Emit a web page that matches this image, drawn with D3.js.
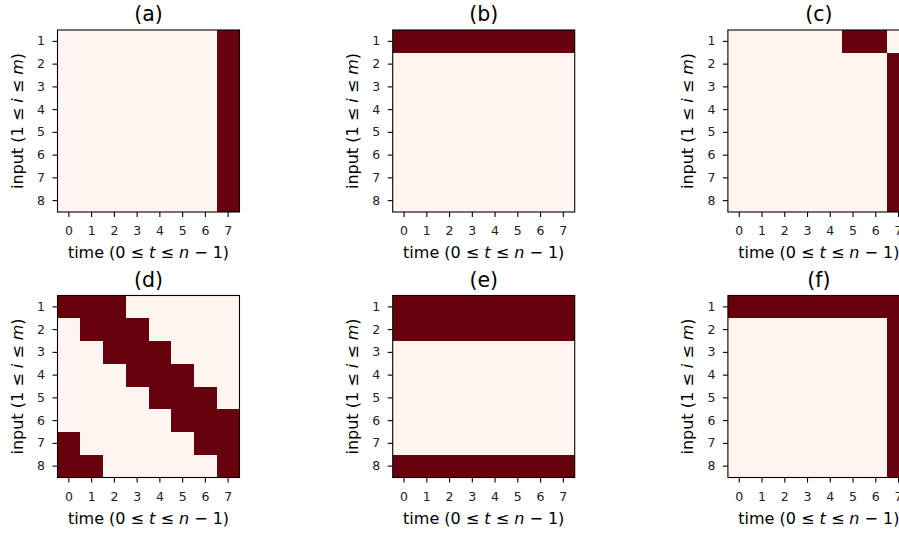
<!DOCTYPE html>
<html>
<head>
<meta charset="utf-8">
<script src="https://cdn.jsdelivr.net/npm/d3@7"></script>
<style>
  body { margin: 0; background: #fff; }
  svg { display: block; font-family: "DejaVu Sans", sans-serif; }
  .tick text { font-size: 12.5px; fill: #222; font-family: "DejaVu Sans", sans-serif; }
  .tick line { stroke: #000; stroke-width: 1.1; }
</style>
</head>
<body>
<div id="chart"></div>
<script>
// time steps (columns) and inputs (rows)
var times = [0, 1, 2, 3, 4, 5, 6, 7];
var inputs = [1, 2, 3, 4, 5, 6, 7, 8];

var titles = ["(a)", "(b)", "(c)", "(d)", "(e)", "(f)"];

// one 8x8 matrix per panel, rows = inputs, cols = times
var panelA = [
  [0,0,0,0,0,0,0,1],
  [0,0,0,0,0,0,0,1],
  [0,0,0,0,0,0,0,1],
  [0,0,0,0,0,0,0,1],
  [0,0,0,0,0,0,0,1],
  [0,0,0,0,0,0,0,1],
  [0,0,0,0,0,0,0,1],
  [0,0,0,0,0,0,0,1]
];
var panelB = [
  [1,1,1,1,1,1,1,1],
  [0,0,0,0,0,0,0,0],
  [0,0,0,0,0,0,0,0],
  [0,0,0,0,0,0,0,0],
  [0,0,0,0,0,0,0,0],
  [0,0,0,0,0,0,0,0],
  [0,0,0,0,0,0,0,0],
  [0,0,0,0,0,0,0,0]
];
var panelC = [
  [0,0,0,0,0,1,1,0],
  [0,0,0,0,0,0,0,1],
  [0,0,0,0,0,0,0,1],
  [0,0,0,0,0,0,0,1],
  [0,0,0,0,0,0,0,1],
  [0,0,0,0,0,0,0,1],
  [0,0,0,0,0,0,0,1],
  [0,0,0,0,0,0,0,1]
];
var panelD = [
  [1,1,1,0,0,0,0,0],
  [0,1,1,1,0,0,0,0],
  [0,0,1,1,1,0,0,0],
  [0,0,0,1,1,1,0,0],
  [0,0,0,0,1,1,1,0],
  [0,0,0,0,0,1,1,1],
  [1,0,0,0,0,0,1,1],
  [1,1,0,0,0,0,0,1]
];
var panelE = [
  [1,1,1,1,1,1,1,1],
  [1,1,1,1,1,1,1,1],
  [0,0,0,0,0,0,0,0],
  [0,0,0,0,0,0,0,0],
  [0,0,0,0,0,0,0,0],
  [0,0,0,0,0,0,0,0],
  [0,0,0,0,0,0,0,0],
  [1,1,1,1,1,1,1,1]
];
var panelF = [
  [1,1,1,1,1,1,1,1],
  [0,0,0,0,0,0,0,1],
  [0,0,0,0,0,0,0,1],
  [0,0,0,0,0,0,0,1],
  [0,0,0,0,0,0,0,1],
  [0,0,0,0,0,0,0,1],
  [0,0,0,0,0,0,0,1],
  [0,0,0,0,0,0,0,1]
];

var panels = [panelA, panelB, panelC, panelD, panelE, panelF];

function init() {
  const width = 899;
  const height = 533;
  const size = 182;      // axes are square
  const colStep = 335.2;
  const rowStep = 265.5;
  const left0 = 57.5;
  const top0 = 30;

  const svg = d3.select("#chart")
    .append("svg")
    .attr("width", width)
    .attr("height", height);

  svg.append("rect")
    .attr("width", width)
    .attr("height", height)
    .attr("fill", "#fff");

  // Reds colormap ends
  const color = d3.scaleLinear()
    .domain([0, 1])
    .range(["#fff5f0", "#67000d"]);

  const xScale = d3.scaleBand()
    .domain(times)
    .range([0, size]);

  const yScale = d3.scaleBand()
    .domain(inputs)
    .range([0, size]);

  panels.forEach(function(matrix, p) {
    const col = p % 3;
    const row = Math.floor(p / 3);

    const chart = svg.append("g")
      .attr("transform", "translate(" + (left0 + col * colStep) + "," + (top0 + row * rowStep) + ")");

    // flatten matrix into cells
    var cells = [];
    matrix.forEach(function(r, i) {
      r.forEach(function(v, t) {
        cells.push({ input: inputs[i], time: times[t], value: v });
      });
    });

    chart.selectAll(null)
      .data(cells)
      .enter()
      .append("rect")
      .attr("x", (d) => xScale(d.time))
      .attr("y", (d) => yScale(d.input))
      .attr("width", xScale.bandwidth())
      .attr("height", yScale.bandwidth())
      .attr("shape-rendering", "crispEdges")
      .attr("fill", (d) => color(d.value));

    chart.append("g")
      .attr("transform", "translate(0," + size + ")")
      .call(d3.axisBottom(xScale).tickSize(5).tickPadding(9.5).tickSizeOuter(0))
      .call((g) => g.select(".domain").remove());

    chart.append("g")
      .call(d3.axisLeft(yScale).tickSize(5).tickPadding(7.5).tickSizeOuter(0))
      .call((g) => g.select(".domain").remove());

    // frame
    chart.append("rect")
      .attr("width", size)
      .attr("height", size)
      .attr("fill", "none")
      .attr("stroke", "#000")
      .attr("stroke-width", 1.1);

    // title
    chart.append("text")
      .attr("x", size / 2)
      .attr("y", -8.7)
      .attr("text-anchor", "middle")
      .attr("font-size", "20.5px")
      .attr("fill", "#000")
      .text(titles[p]);

    // x label: time (0 ≤ t ≤ n − 1)
    const xl = chart.append("text")
      .attr("x", size / 2)
      .attr("y", size + 46)
      .attr("text-anchor", "middle")
      .attr("font-size", "16px")
      .attr("fill", "#000");
    xl.append("tspan").text("time (0 \u2264 ");
    xl.append("tspan").attr("font-style", "italic").text("t");
    xl.append("tspan").text(" \u2264 ");
    xl.append("tspan").attr("font-style", "italic").text("n");
    xl.append("tspan").text(" \u2212 1)");

    // y label: input (1 ≤ i ≤ m)
    const yl = chart.append("text")
      .attr("transform", "translate(-34.5," + (size / 2) + ") rotate(-90)")
      .attr("text-anchor", "middle")
      .attr("font-size", "16px")
      .attr("fill", "#000");
    yl.append("tspan").text("input (1 \u2264 ");
    yl.append("tspan").attr("font-style", "italic").text("i");
    yl.append("tspan").text(" \u2264 ");
    yl.append("tspan").attr("font-style", "italic").text("m");
    yl.append("tspan").text(")");
  });
}

window.onload = init;
</script>
</body>
</html>
